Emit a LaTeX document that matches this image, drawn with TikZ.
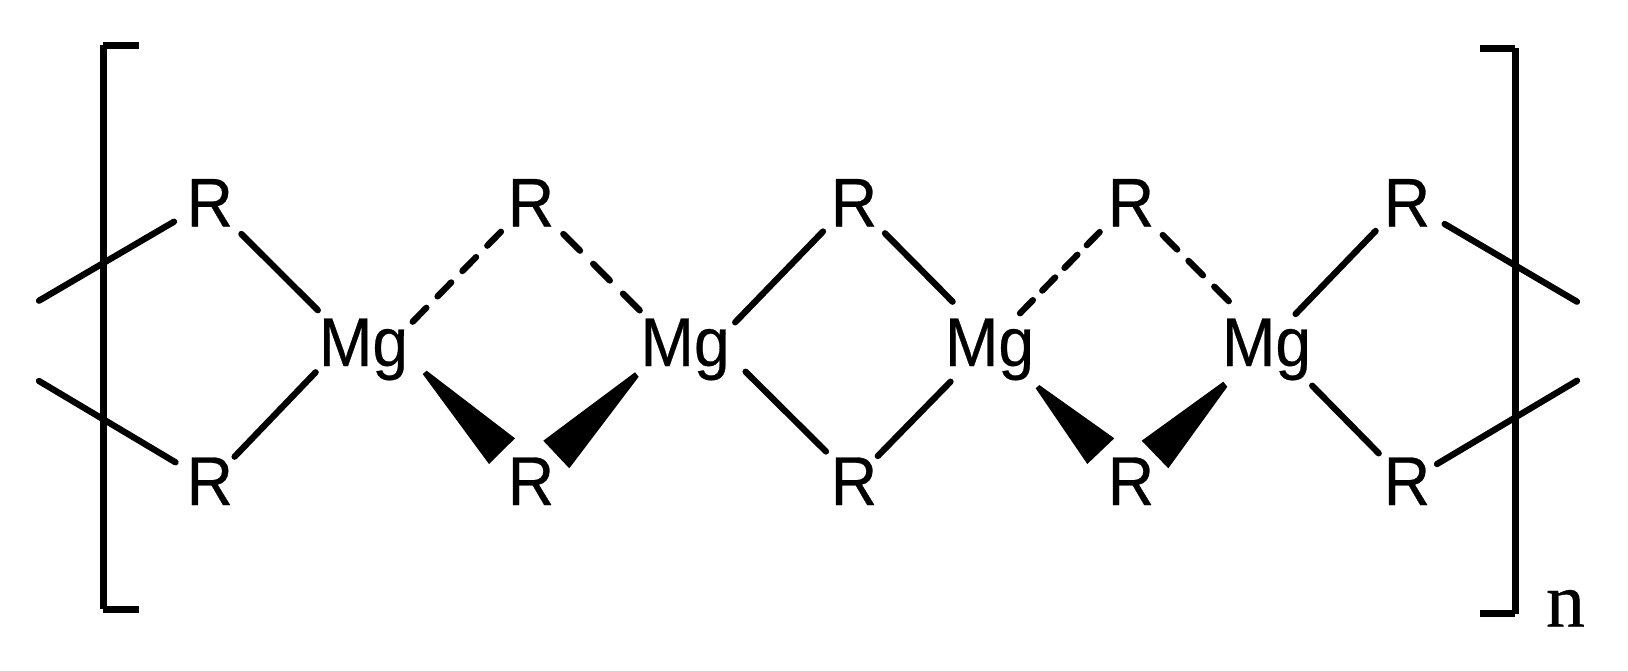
\documentclass[tikz,border=0pt]{standalone}
\usepackage{fontspec}
\setmainfont[FakeStretch=0.93,FakeBold=0.4]{Liberation Sans}
\newfontfamily\serifn[FakeBold=0.4]{Liberation Serif}
\usetikzlibrary{calc}
\tikzset{
  atom/.style={inner sep=0pt,outer sep=0pt,anchor=base,font=\fontsize{69}{72}\selectfont},
  idx/.style={inner sep=0pt,outer sep=0pt,anchor=base,font=\serifn\fontsize{78}{82}\selectfont},
  bond/.style={line width=6.3pt,line cap=round,black},
  dashA/.style={bond,dash pattern=on 19.5pt off 16pt},
  dashB/.style={bond,dash pattern=on 23.6pt off 18.6pt},
  dashC/.style={bond,dash pattern=on 18.4pt off 13.4pt},
  dashD/.style={bond,dash pattern=on 20.5pt off 16pt},
  wedgebond/.style={fill=black,draw=none},
  brk/.style={line width=7pt,line cap=butt,black}
}
\begin{document}
\begin{tikzpicture}[x=1pt,y=-1pt]
\useasboundingbox (0,0) rectangle (1628,670);
\fill[white] (0,0) rectangle (1628,670);
% brackets
\draw[brk] (103,45) -- (103,609);
\draw[brk] (103,45) -- (139,45);
\draw[brk] (103,609) -- (139,609);
\draw[brk] (1515,48) -- (1515,613.5);
\draw[brk] (1515,48) -- (1480,48);
\draw[brk] (1515,613.5) -- (1480,613.5);
\node[idx] (idxn) at (1565.5,626.7) {n};
% atoms
\node[atom] (r1) at (209.8,226.5) {R};
\node[atom] (r2) at (531,226.5) {R};
\node[atom] (r3) at (854,226.5) {R};
\node[atom] (r4) at (1131,226.5) {R};
\node[atom] (r5) at (1407,226.5) {R};
\node[atom] (s1) at (209.8,505) {R};
\node[atom] (s2) at (531,505) {R};
\node[atom] (s3) at (854,505) {R};
\node[atom] (s4) at (1131,505) {R};
\node[atom] (s5) at (1407,505) {R};
\node[atom] (m1) at (363.5,366) {Mg};
\node[atom] (m2) at (685.1,366) {Mg};
\node[atom] (m3) at (989.5,366) {Mg};
\node[atom] (m4) at (1266.5,366) {Mg};
% free chain ends
\coordinate (ftl) at (39,300.7);
\coordinate (fbl) at (39,381);
\coordinate (ftr) at (1577,301.7);
\coordinate (fbr) at (1577,380.7);
% solid bonds (offsets from the labels' base points)
\draw[bond] (ftl) -- ($(r1.base)+(-35.8,-4.8)$);
\draw[bond] (fbl) -- ($(s1.base)+(-34.3,-42.7)$);
\draw[bond] ($(r1.base)+(31.6,7.5)$) -- ($(m1.base)+(-45.7,-55.8)$);
\draw[bond] ($(m1.base)+(-47.9,6.3)$) -- ($(s1.base)+(24.8,-48.3)$);
\draw[bond] ($(m2.base)+(50.1,-43.7)$) -- ($(r3.base)+(-31,5)$);
\draw[bond] ($(m2.base)+(60.5,5.7)$) -- ($(s3.base)+(-28,-53.5)$);
\draw[bond] ($(r3.base)+(31,6.8)$) -- ($(m3.base)+(-36.9,-64.3)$);
\draw[bond] ($(m3.base)+(-39,15.7)$) -- ($(s3.base)+(23.8,-49)$);
\draw[bond] ($(m4.base)+(29.1,-52)$) -- ($(r5.base)+(-31.4,4.5)$);
\draw[bond] ($(m4.base)+(45.7,19.7)$) -- ($(s5.base)+(-28.3,-51.7)$);
\draw[bond] ($(r5.base)+(37.6,-2.5)$) -- (ftr);
\draw[bond] ($(s5.base)+(30,-41)$) -- (fbr);
% dashed bonds
\draw[dashA] ($(m1.base)+(49.2,-44.3)$) -- ($(r2.base)+(-30,5.2)$);
\draw[dashB] ($(r2.base)+(32.3,7.5)$) -- ($(m2.base)+(-45.1,-55.3)$);
\draw[dashC] ($(m3.base)+(30.5,-52.7)$) -- ($(r4.base)+(-31,5.2)$);
\draw[dashD] ($(r4.base)+(31.7,8.5)$) -- ($(m4.base)+(-37.2,-64.3)$);
% wedge bonds
\fill[wedgebond] ($(m1.base)+(59.2,8)$) -- ($(m1.base)+(63.2,4.7)$) -- ($(s2.base)+(-16,-66.7)$) -- ($(s2.base)+(-42,-41)$) -- cycle;
\fill[wedgebond] ($(m2.base)+(-50.1,6.3)$) -- ($(m2.base)+(-46.4,10.7)$) -- ($(s2.base)+(38.3,-36.7)$) -- ($(s2.base)+(12.3,-64.3)$) -- cycle;
\fill[wedgebond] ($(m3.base)+(46.2,22.3)$) -- ($(m3.base)+(49.8,19)$) -- ($(s4.base)+(-16.7,-66.7)$) -- ($(s4.base)+(-43.7,-41)$) -- cycle;
\fill[wedgebond] ($(m4.base)+(-43.2,15.7)$) -- ($(m4.base)+(-39.2,20.7)$) -- ($(s4.base)+(37.3,-36.7)$) -- ($(s4.base)+(10.7,-64.3)$) -- cycle;
\end{tikzpicture}
\end{document}
